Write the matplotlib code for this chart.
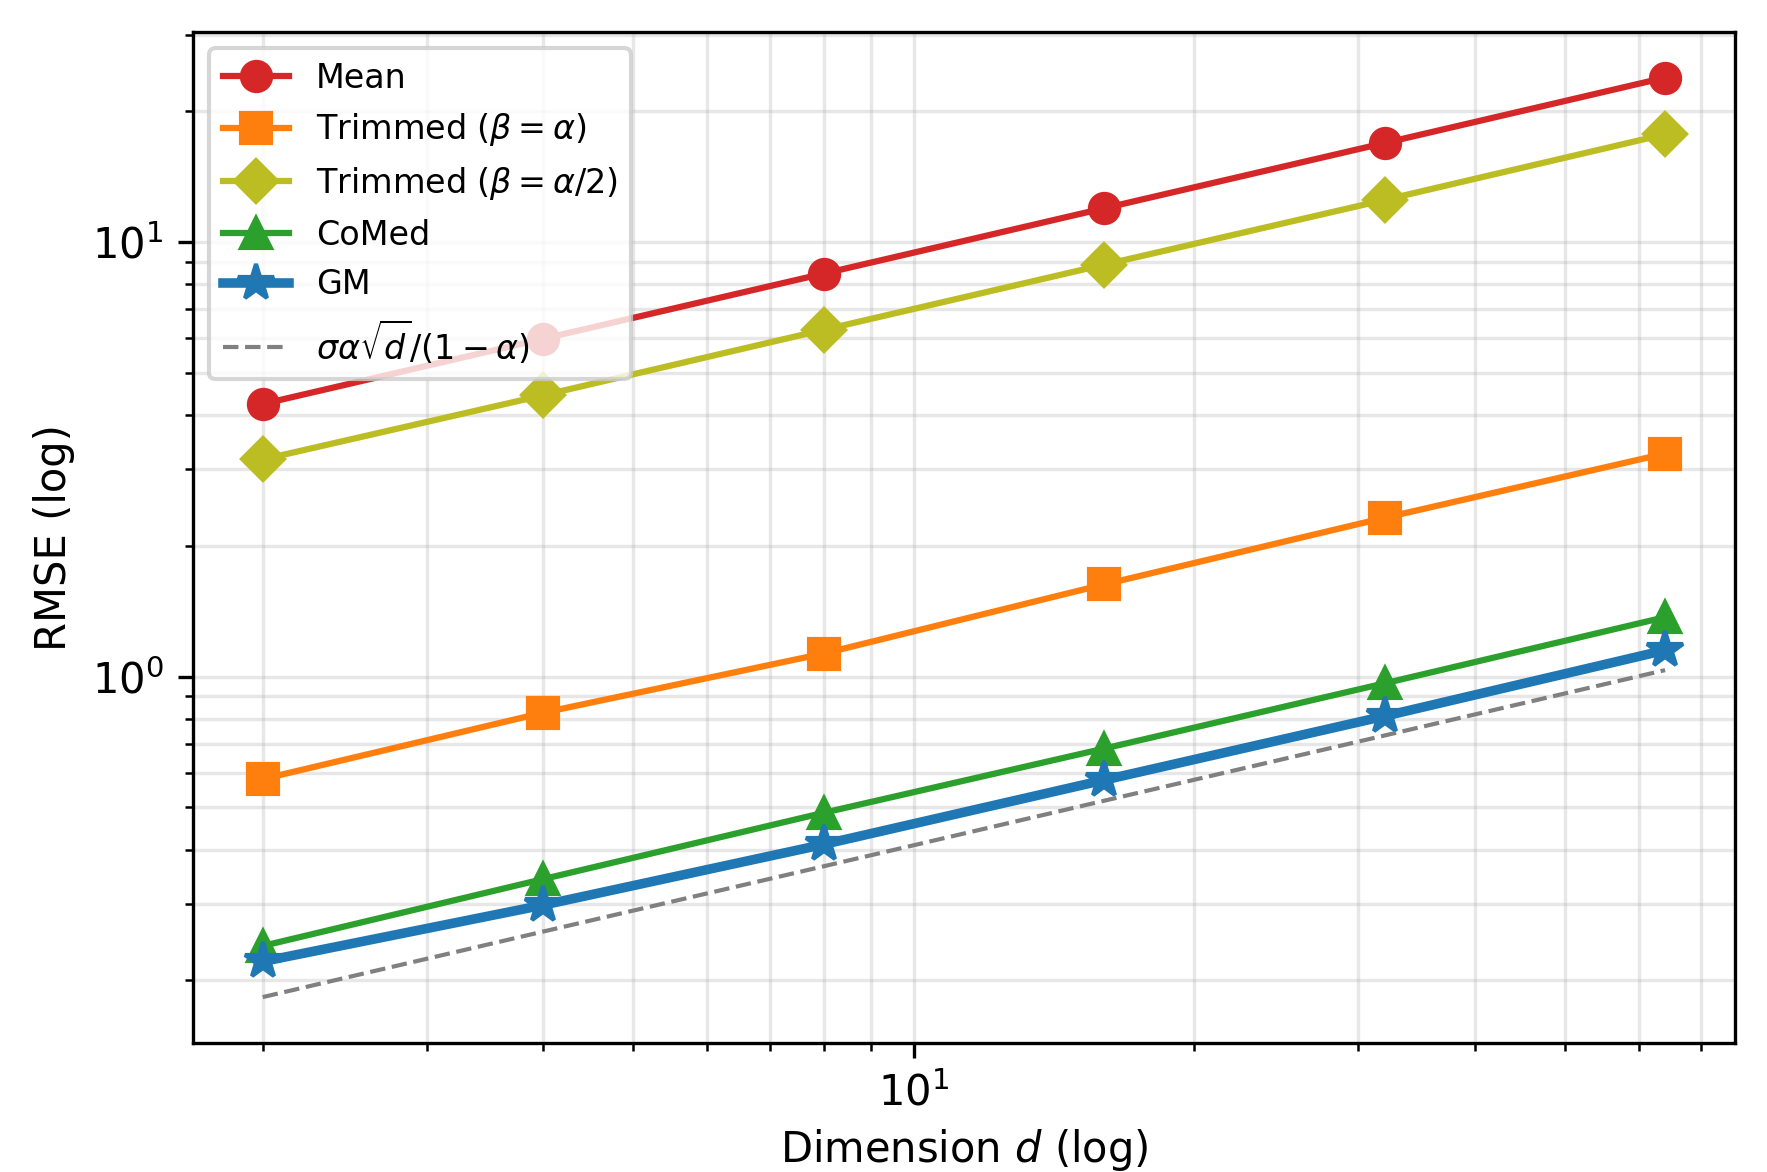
import numpy as np
import matplotlib.pyplot as plt

# dimensions d (log2 spaced)
dims = [2, 4, 8, 16, 32, 64]

# RMSE
rmse_mean = [4.24, 5.99, 8.46, 11.96, 16.9, 23.9]
rmse_trim_a = [0.581, 0.826, 1.13, 1.63, 2.32, 3.26]
rmse_trim_a2 = [3.16, 4.44, 6.28, 8.87, 12.5, 17.7]
rmse_comed = [0.240, 0.342, 0.486, 0.683, 0.965, 1.37]
rmse_gm = [0.221, 0.298, 0.411, 0.578, 0.811, 1.15]
rmse_bound = [0.183, 0.259, 0.366, 0.518, 0.732, 1.035]

fig, ax = plt.subplots(figsize=(1767 / 300, 1172 / 300), dpi=300)

ax.plot(dims, rmse_mean, marker='o', ms=7, lw=1.5, color='tab:red', label='Mean')
ax.plot(dims, rmse_trim_a, marker='s', ms=7, lw=1.5, color='tab:orange',
        label=r'Trimmed ($\beta=\alpha$)')
ax.plot(dims, rmse_trim_a2, marker='D', ms=7, lw=1.5, color='tab:olive',
        label=r'Trimmed ($\beta=\alpha/2$)')
ax.plot(dims, rmse_comed, marker='^', ms=7, lw=1.5, color='tab:green', label='CoMed')
ax.plot(dims, rmse_gm, marker='*', ms=9, lw=2.3, color='tab:blue', label='GM')
ax.plot(dims, rmse_bound, ls='--', lw=1.0, color='gray',
        label=r'$\sigma\alpha\sqrt{d}/(1-\alpha)$')

ax.set_xscale('log')
ax.set_yscale('log')
ax.set_xlabel(r'Dimension $d$ (log)', fontsize=10, labelpad=3)
ax.set_ylabel('RMSE (log)', fontsize=10)
ax.tick_params(labelsize=10)
ax.grid(True, which='both', alpha=0.3)
ax.legend(loc='upper left', fontsize=8)

plt.subplots_adjust(left=0.109, right=0.982, top=0.973, bottom=0.110)
plt.savefig('out.png', dpi=300)
